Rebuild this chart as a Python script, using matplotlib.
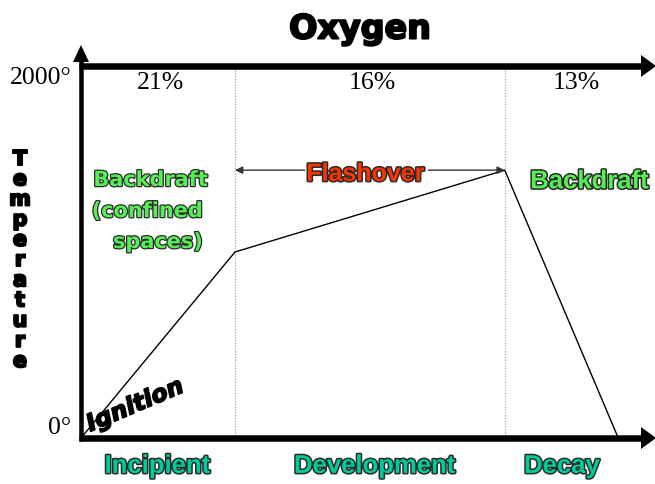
import matplotlib
matplotlib.use("Agg")
import matplotlib.pyplot as plt
import matplotlib.patheffects as pe
from matplotlib.patches import Polygon
from matplotlib.lines import Line2D

# ---------------- data ----------------
time = [0, 27.4, 75.4, 95.6]              # arbitrary time units
temperature = [0, 1000, 1440, 0]          # degrees
phase_bounds = [27.4, 75.4]
phase_names = ["Incipient", "Development", "Decay"]
oxygen_labels = ["21%", "16%", "13%"]
ytick_vals = [0, 2000]
ytick_labels = ["0°", "2000°"]
x_max = 100
peak_temp = max(temperature)

# ---------------- layout ----------------
W, H = 655, 485
fig = plt.figure(figsize=(W / 100, H / 100), dpi=100)
fig.patch.set_facecolor("white")

def P(x, y):
    return (x / W, 1 - y / H)

AX_L, AX_R, AX_T, AX_B = 81, 643, 67, 439
ax = fig.add_axes([AX_L / W, 1 - AX_B / H, (AX_R - AX_L) / W, (AX_B - AX_T) / H])
ax.set_xlim(0, x_max)
ax.set_ylim(0, 2000)
for s in ax.spines.values():
    s.set_visible(False)
ax.set_xticks([])
ax.set_yticks(ytick_vals)
ax.set_yticklabels(ytick_labels, family="Liberation Serif", fontsize=18.5)
ax.tick_params(axis="y", length=0, pad=7)
labs = ax.get_yticklabels()
labs[0].set_va("bottom")
labs[1].set_va("top")

# phase separators
for b in phase_bounds:
    ax.axvline(b, color="#9a9a9a", lw=0.8, ls=(0, (1, 1.5)))

# temperature curve
ax.plot(time, temperature, color="black", lw=1.0, clip_on=False)

# axes lines with arrowheads (figure pixel coords)
def fline(p0, p1, lw):
    fig.add_artist(Line2D([P(*p0)[0], P(*p1)[0]], [P(*p0)[1], P(*p1)[1]],
                          transform=fig.transFigure, color="black",
                          lw=lw * 0.72, solid_capstyle="butt"))

def fpoly(pts):
    fig.add_artist(Polygon([P(*p) for p in pts], closed=True,
                           transform=fig.transFigure, color="black", lw=0))

fline((AX_L, AX_B + 3), (AX_L, 62), 4.5)
fline((AX_L - 2, AX_T), (643, AX_T), 6.5)
fline((AX_L - 2, AX_B), (643, AX_B), 6.5)
fpoly([(73, 63), (89, 63), (81, 46)])
fpoly([(641, 56), (641, 78), (656, 67)])
fpoly([(641, 428), (641, 450), (656, 439)])

outline = [pe.withStroke(linewidth=2.2, foreground="#2a2a2a")]
narrow = ["Liberation Sans", "DejaVu Sans"]

# oxygen percentages and phase names
edges = [0] + phase_bounds + [x_max]
mids = [(edges[i] + edges[i + 1]) / 2 for i in range(3)]
for m, lab in zip(mids, oxygen_labels):
    ax.text(m + 0.5, 0.957, lab, transform=ax.get_xaxis_transform(),
            ha="center", va="center", family="Liberation Serif", fontsize=18.5)
name_x = [13.6, 52.3, 85.6]
for m, lab in zip(name_x, phase_names):
    ax.text(m, -0.075, lab, transform=ax.get_xaxis_transform(),
            ha="center", va="center", family=narrow, weight="bold",
            fontsize=18.5, color="#00CC99", path_effects=outline)

# flashover arrows
ax.annotate("", xy=(phase_bounds[0], peak_temp), xytext=(39.8, peak_temp),
            arrowprops=dict(arrowstyle="-|>", color="#333333", lw=1.0,
                            mutation_scale=11, shrinkA=0, shrinkB=0))
ax.annotate("", xy=(phase_bounds[1], peak_temp), xytext=(61.8, peak_temp),
            arrowprops=dict(arrowstyle="-|>", color="#333333", lw=1.0,
                            mutation_scale=11, shrinkA=0, shrinkB=0))
ax.text(50.6, peak_temp - 20, "Flashover", ha="center", va="center",
        family=narrow, weight="bold", fontsize=18, color="#FF3300",
        path_effects=outline)

# backdraft labels
ax.text(90.5, 1380, "Backdraft", ha="center", va="center",
        family=narrow, weight="bold", fontsize=18.5, color="#55EE55",
        path_effects=outline)
green_outline = [pe.withStroke(linewidth=1.8, foreground="#2a2a2a")]
ax.text(2.2, 1387, "Backdraft", ha="left", va="center", family="DejaVu Sans",
        weight="bold", fontsize=15, color="#55EE55", path_effects=green_outline)
ax.text(1.9, 1220, "(confined", ha="left", va="center", family="DejaVu Sans",
        weight="bold", fontsize=15, color="#55EE55", path_effects=green_outline)
ax.text(5.7, 1054, "spaces)", ha="left", va="center", family="DejaVu Sans",
        weight="bold", fontsize=15, color="#55EE55", path_effects=green_outline)

# ignition
fig.text(*P(135, 406), "Ignition", rotation=23, rotation_mode="anchor",
         ha="center", va="center", family="DejaVu Sans", weight="bold",
         style="italic", fontsize=17, color="black",
         path_effects=[pe.withStroke(linewidth=1.2, foreground="black")])

# title
fig.text(*P(360, 30), "Oxygen", ha="center", va="center",
         family="DejaVu Sans", weight="bold", fontsize=24,
         path_effects=[pe.withStroke(linewidth=1.5, foreground="black")])

# vertical "Temperature"
for i, ch in enumerate("Temperature"):
    fig.text(*P(20, 160 + i * 20.2), ch, ha="center", va="center",
             family="DejaVu Sans", weight="bold", fontsize=15,
             path_effects=[pe.withStroke(linewidth=1.5, foreground="black")])

fig.savefig("out.png", dpi=100, facecolor="white")
